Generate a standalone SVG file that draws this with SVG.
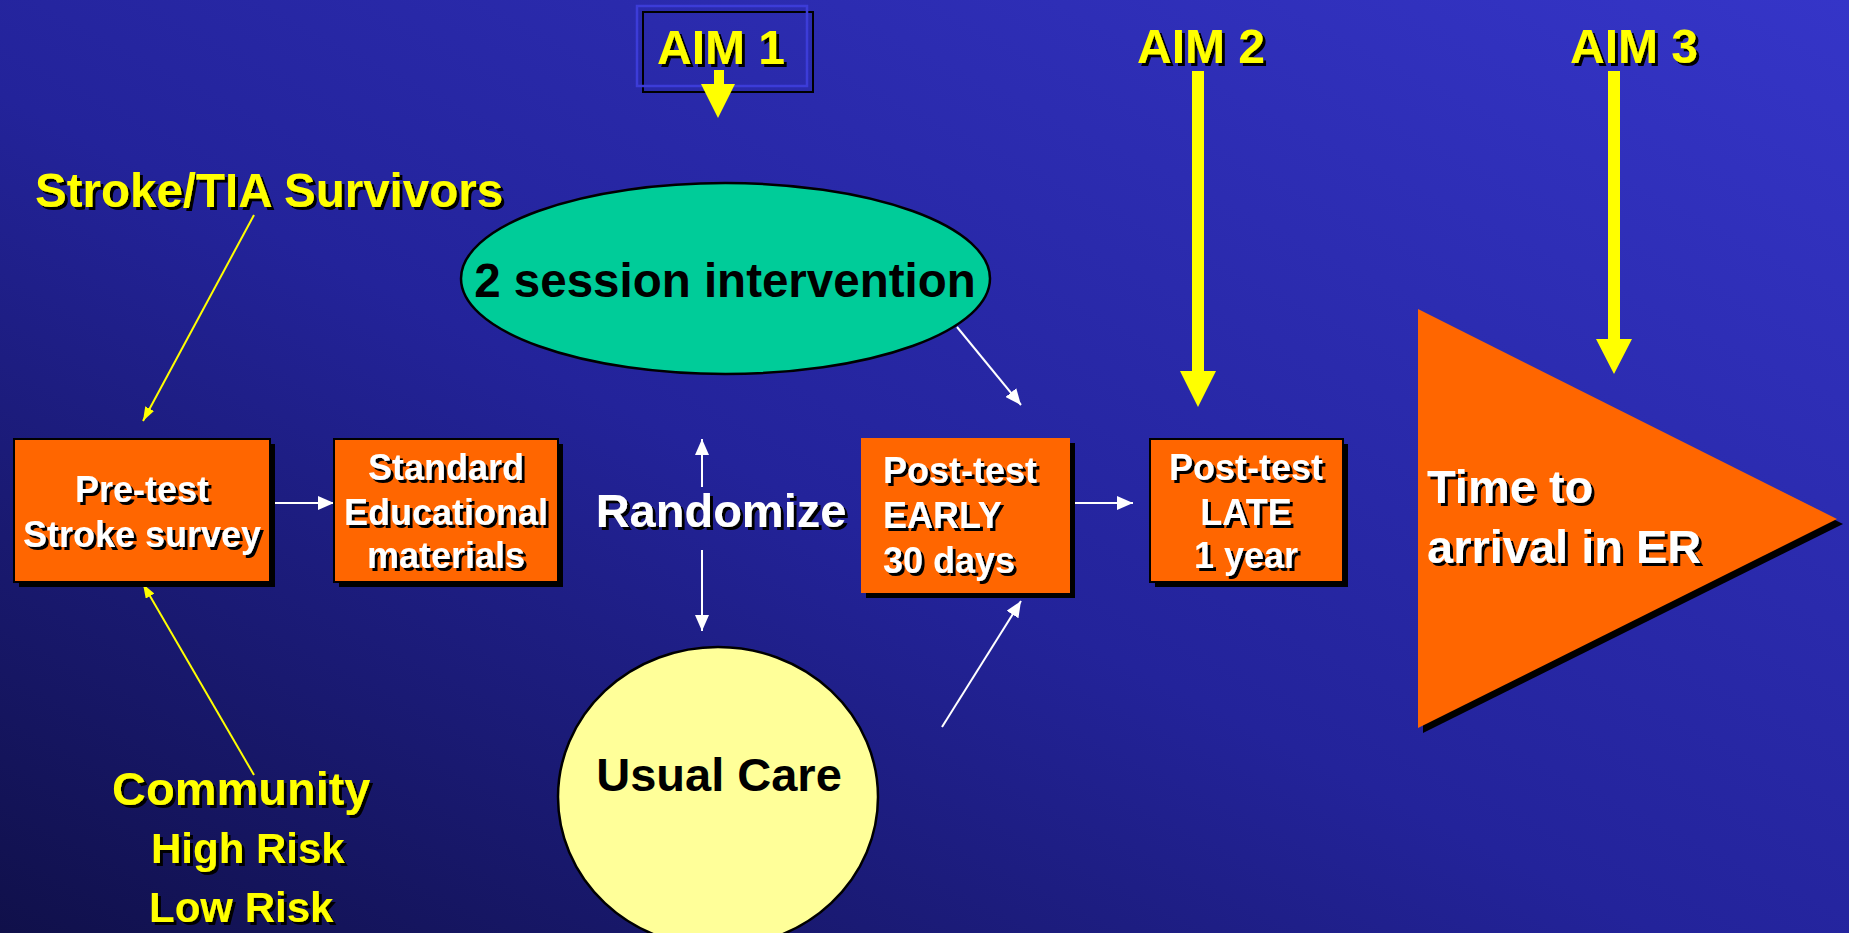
<svg xmlns="http://www.w3.org/2000/svg" width="1849" height="933" viewBox="0 0 1849 933">
<defs>
<linearGradient id="bg" x1="0" y1="1" x2="1" y2="0">
<stop offset="0" stop-color="#10104a"/>
<stop offset="0.45" stop-color="#23239a"/>
<stop offset="1" stop-color="#3535c8"/>
</linearGradient>
<filter id="sh" x="-5%" y="-20%" width="115%" height="150%">
<feDropShadow dx="3" dy="3" stdDeviation="0" flood-color="#000" flood-opacity="1"/>
</filter>
<marker id="wh" viewBox="0 0 16 14" refX="16" refY="7" markerWidth="16" markerHeight="14" markerUnits="userSpaceOnUse" orient="auto">
<path d="M0,0 L16,7 L0,14 Z" fill="#fff"/>
</marker>
<marker id="yh" viewBox="0 0 14 10" refX="14" refY="5" markerWidth="14" markerHeight="10" markerUnits="userSpaceOnUse" orient="auto">
<path d="M0,0 L14,5 L0,10 Z" fill="#ff0"/>
</marker>
<style>
text{font-family:"Liberation Sans",Arial,sans-serif;font-weight:bold}
.yl{fill:#ff0;filter:url(#sh)}
.wt{fill:#fff;filter:url(#sh)}
.bk{fill:#000}
.box{fill:#f60;stroke:#000;stroke-width:2}
.shd{fill:#000}
.wl{stroke:#fff;stroke-width:2;fill:none;marker-end:url(#wh)}
.ylw{stroke:#ff0;stroke-width:2;fill:none;marker-end:url(#yh)}
.aim{fill:#ff0}
</style>
</defs>
<rect width="1849" height="933" fill="url(#bg)"/>

<g id="aim1">
<rect x="643" y="12" width="170" height="80" fill="none" stroke="#000" stroke-width="2"/>
<rect x="637" y="6" width="170" height="80" fill="none" stroke="#3c3cd8" stroke-width="2.5"/>
<text x="721" y="64" font-size="48" text-anchor="middle" class="yl">AIM 1</text>
<polygon class="aim" points="714,70 724,70 724,84 735,84 718,118 701,84 714,84"/>
</g>
<g id="aim2">
<text x="1201" y="63" font-size="48" text-anchor="middle" class="yl">AIM 2</text>
<polygon class="aim" points="1192,71 1204,71 1204,371 1216,371 1198,407 1180,371 1192,371"/>
</g>
<g id="aim3">
<text x="1634" y="63" font-size="48" text-anchor="middle" class="yl">AIM 3</text>
<polygon class="aim" points="1608,71 1620,71 1620,339 1632,339 1614,374 1596,339 1608,339"/>
</g>

<g id="survivors">
<text x="35" y="207" font-size="47.5" class="yl">Stroke/TIA Survivors</text>
</g>
<g id="community">
<text x="112" y="805" font-size="47" class="yl">Community</text>
<text x="151" y="863" font-size="42" class="yl">High Risk</text>
<text x="149" y="922" font-size="42" class="yl">Low Risk</text>
</g>

<g id="connectors">
<line class="ylw" x1="254" y1="215" x2="143" y2="421"/>
<line class="ylw" x1="254" y1="775" x2="143" y2="584"/>
<line class="wl" x1="270" y1="503" x2="334" y2="503"/>
<line class="wl" x1="702" y1="487" x2="702" y2="439"/>
<line class="wl" x1="702" y1="550" x2="702" y2="631"/>
<line class="wl" x1="957" y1="327" x2="1021" y2="405"/>
<line class="wl" x1="942" y1="727" x2="1021" y2="601"/>
<line class="wl" x1="1070" y1="503" x2="1133" y2="503"/>
</g>

<g id="pretest">
<rect class="shd" x="19" y="444" width="256" height="143"/>
<rect class="box" x="14" y="439" width="256" height="143"/>
<text x="142" y="502" font-size="36" text-anchor="middle" class="wt">Pre-test</text>
<text x="142" y="547" font-size="36" text-anchor="middle" class="wt">Stroke survey</text>
</g>

<g id="standard">
<rect class="shd" x="339" y="444" width="224" height="143"/>
<rect class="box" x="334" y="439" width="224" height="143"/>
<text x="446" y="480" font-size="36" text-anchor="middle" class="wt">Standard</text>
<text x="446" y="525" font-size="36" text-anchor="middle" class="wt">Educational</text>
<text x="446" y="568" font-size="36" text-anchor="middle" class="wt">materials</text>
</g>

<g id="randomize">
<text x="721" y="527" font-size="47" text-anchor="middle" class="wt">Randomize</text>
</g>

<g id="intervention">
<ellipse cx="725.5" cy="278.5" rx="264.5" ry="95.5" fill="#00cc99" stroke="#000" stroke-width="2.5"/>
<text x="725" y="297" font-size="47.5" text-anchor="middle" class="bk">2 session intervention</text>
</g>

<g id="usualcare">
<ellipse cx="718" cy="797" rx="160" ry="150" fill="#ffff99" stroke="#000" stroke-width="2.5"/>
<text x="719" y="791" font-size="47" text-anchor="middle" class="bk">Usual Care</text>
</g>

<g id="early">
<rect class="shd" x="866" y="443" width="209" height="155"/>
<rect x="861" y="438" width="209" height="155" fill="#f60"/>
<text x="883" y="483" font-size="36" class="wt">Post-test</text>
<text x="883" y="528" font-size="36" class="wt">EARLY</text>
<text x="883" y="573" font-size="36" class="wt">30 days</text>
</g>

<g id="late">
<rect class="shd" x="1155" y="444" width="193" height="143"/>
<rect class="box" x="1150" y="439" width="193" height="143"/>
<text x="1246" y="480" font-size="36" text-anchor="middle" class="wt">Post-test</text>
<text x="1246" y="525" font-size="36" text-anchor="middle" class="wt">LATE</text>
<text x="1246" y="568" font-size="36" text-anchor="middle" class="wt">1 year</text>
</g>

<g id="er">
<polygon class="shd" points="1423,314 1843,524 1423,733"/>
<polygon points="1418,309 1837,519 1418,728" fill="#f60"/>
<text x="1427" y="503" font-size="47" class="wt">Time to</text>
<text x="1427" y="563" font-size="47" class="wt">arrival in ER</text>
</g>
</svg>
